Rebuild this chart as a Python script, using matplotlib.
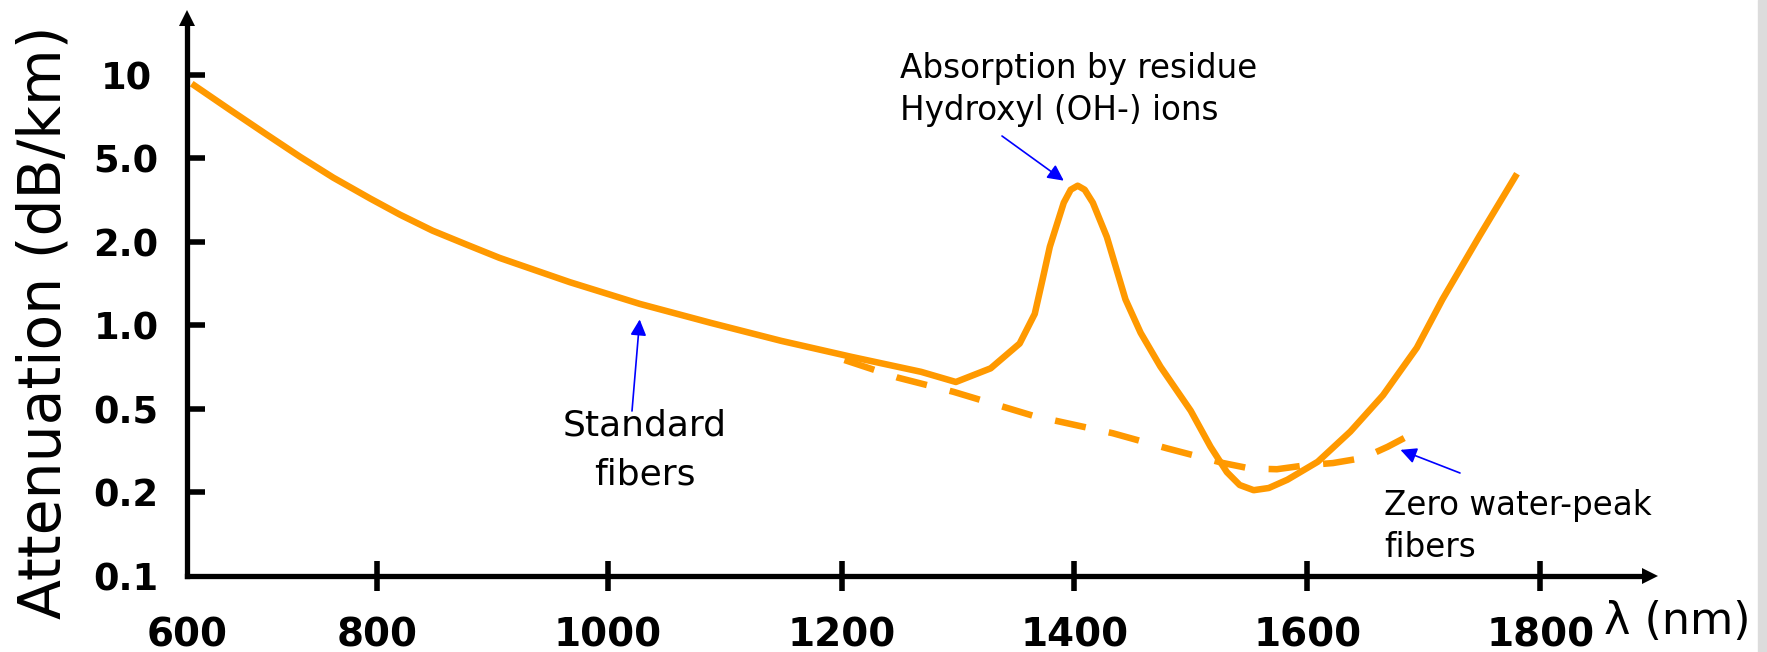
import numpy as np
import matplotlib.pyplot as plt
from matplotlib.patches import Rectangle

# attenuation curves (wavelength in nm, attenuation in dB/km)
std_nm = [605, 645, 684, 719, 754, 793, 820, 848, 878, 906, 967, 1027, 1088,
          1148, 1208, 1268, 1298, 1328, 1353, 1366, 1373, 1379, 1391, 1397,
          1403, 1409, 1416, 1428, 1444, 1457, 1474, 1500, 1517, 1531, 1542,
          1554, 1567, 1583, 1609, 1637, 1665, 1694, 1716, 1748, 1780]
std_att = [9.28, 7.48, 6.08, 5.06, 4.04, 3.21, 2.69, 2.26, 1.95, 1.75, 1.43,
           1.195, 1.02, 0.879, 0.77, 0.68, 0.625, 0.70, 0.86, 1.10, 1.48, 1.92,
           3.07, 3.54, 3.70, 3.54, 3.07, 2.11, 1.24, 0.94, 0.71, 0.49, 0.33,
           0.25, 0.217, 0.205, 0.21, 0.23, 0.28, 0.39, 0.56, 0.83, 1.24, 2.14,
           4.22]

zwp_nm = [1202, 1248, 1296, 1365, 1433, 1480, 1528, 1551, 1574, 1600, 1622,
          1648, 1669, 1686]
zwp_att = [0.75, 0.648, 0.576, 0.463, 0.383, 0.324, 0.276, 0.26, 0.258, 0.27,
           0.276, 0.292, 0.33, 0.37]

x_ticks = [600, 800, 1000, 1200, 1400, 1600, 1800]
y_ticks = [0.1, 0.2, 0.5, 1.0, 2.0, 5.0, 10]
y_labels = ['0.1', '0.2', '0.5', '1.0', '2.0', '5.0', '10']

# the drawing spaces its ticks evenly, so both axes are piecewise scales
XK = [600, 800, 1000, 1200, 1400, 1600, 1800, 2000]
XP = [0, 190, 421, 655, 887, 1120, 1353, 1586]
YK = np.log10([0.1, 0.2, 0.5, 1, 2, 5, 10, 20])
YP = np.arange(8)


def fx(x):
    return np.interp(x, XK, XP)


def ix(p):
    return np.interp(p, XP, XK)


def fy(y):
    return np.interp(np.log10(np.clip(y, 1e-3, None)), YK, YP)


def iy(p):
    return 10 ** np.interp(p, YP, YK)


plt.rcParams['font.family'] = 'DejaVu Sans'
W, H = 1767, 652
fig = plt.figure(figsize=(W / 100, H / 100), dpi=100)
ax = fig.add_axes([187 / W, 76 / H, 1471 / W, 566 / H])
ax.set_xscale('function', functions=(fx, ix))
ax.set_yscale('function', functions=(fy, iy))
ax.set_xlim(600, 1901)
ax.set_ylim(0.1, 17.1)

orange = '#ff9900'
ax.plot(std_nm, std_att, color=orange, lw=4.7, solid_joinstyle='round',
        solid_capstyle='butt', clip_on=False)
ax.plot(zwp_nm, zwp_att, color=orange, lw=4.7, dashes=(4.8, 3.6),
        dash_capstyle='butt', clip_on=False)

for s in ['top', 'right']:
    ax.spines[s].set_visible(False)
for s in ['left', 'bottom']:
    ax.spines[s].set_linewidth(3.8)
ax.spines['bottom'].set_bounds(600, 1890)
ax.spines['left'].set_bounds(0.1, 15.4)
ax.plot([1 - 8 / 1471], [0], marker='>', ms=11.5, color='black', mew=0,
        transform=ax.transAxes, clip_on=False)
ax.plot([0], [1 - 8 / 566], marker='^', ms=11.5, color='black', mew=0,
        transform=ax.transAxes, clip_on=False)

ax.set_xticks(x_ticks)
ax.set_xticklabels([str(t) for t in x_ticks], fontsize=28, fontweight='bold')
ax.tick_params(axis='x', direction='inout', length=21, width=4, pad=19)
ax.set_yticks(y_ticks)
ax.set_yticklabels(y_labels, fontsize=26.5, fontweight='bold', ha='center')
ax.tick_params(axis='y', direction='in', length=13, width=4, pad=44)
ax.minorticks_off()
ax.xaxis.get_major_ticks()[0].tick1line.set_visible(False)
ax.yaxis.get_major_ticks()[0].tick1line.set_visible(False)

fig.text(44 / W, 1 - 322 / H, 'Attenuation (dB/km)', rotation=90,
         fontsize=42, ha='center', va='center')
fig.text(1677 / W, 1 - 621 / H, '\u03bb (nm)', fontsize=32,
         ha='center', va='center')

fig.text(900 / W, 1 - 52 / H, 'Absorption by residue\nHydroxyl (OH-) ions',
         fontsize=23.5, ha='left', va='top', linespacing=1.35)
fig.text(645 / W, 1 - 408 / H, 'Standard\nfibers', fontsize=26,
         ha='center', va='top', linespacing=1.58, multialignment='center')
fig.text(1384 / W, 1 - 489 / H, 'Zero water-peak\nfibers', fontsize=23.5,
         ha='left', va='top', linespacing=1.36)

arrow = dict(arrowstyle='-|>', color='blue', lw=1.2, mutation_scale=24,
             shrinkA=0, shrinkB=0)
ax.annotate('', xy=(1027, 1.05), xytext=(632, H - 411),
            textcoords='figure pixels', arrowprops=arrow)
ax.annotate('', xy=(1391, 3.91), xytext=(1002, H - 136),
            textcoords='figure pixels', arrowprops=arrow)
ax.annotate('', xy=(1680, 0.319), xytext=(1460, H - 473),
            textcoords='figure pixels', arrowprops=arrow)

fig.patches.append(Rectangle((1758 / W, 0), 9 / W, 1, transform=fig.transFigure,
                             color='#dcdcdc'))

fig.savefig('out.png', dpi=100)
